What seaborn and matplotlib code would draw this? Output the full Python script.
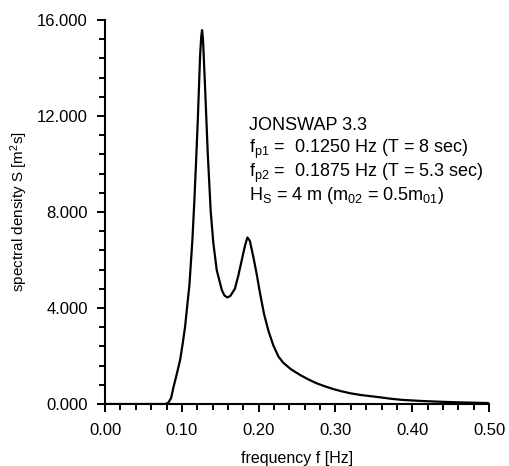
import numpy as np
import pandas as pd
import matplotlib
matplotlib.use("Agg")
import matplotlib.pyplot as plt
from matplotlib.ticker import MultipleLocator, FormatStrFormatter
import seaborn as sns

# ── Data ───────────────────────────────────────────────
freq = [0.000, 0.078, 0.082, 0.086, 0.0889, 0.093, 0.0977, 0.101, 0.1042,
        0.107, 0.1098, 0.1137, 0.1163, 0.1185, 0.1207, 0.1237, 0.1252,
        0.1263, 0.1275, 0.1302, 0.1337, 0.1376, 0.141, 0.1454, 0.152,
        0.1555, 0.1593, 0.163, 0.169, 0.1735, 0.178, 0.1822, 0.1853,
        0.1885, 0.193, 0.1975, 0.2018, 0.207, 0.2127, 0.219, 0.2257,
        0.232, 0.242, 0.254, 0.265, 0.2757, 0.286, 0.297, 0.308, 0.319,
        0.332, 0.345, 0.358, 0.372, 0.388, 0.410, 0.432, 0.460, 0.500]
density = [0.0, 0.0, 0.04, 0.25, 0.68, 1.2, 1.83, 2.5, 3.22,
           4.1, 4.95, 6.83, 8.5, 10.1, 11.8, 14.5, 15.3,
           15.58, 15.2, 13.2, 10.45, 8.0, 6.7, 5.58, 4.75,
           4.52, 4.44, 4.5, 4.8, 5.35, 6.0, 6.6, 6.94,
           6.8, 6.14, 5.4, 4.61, 3.75, 3.05, 2.45, 1.98,
           1.72, 1.45, 1.21, 1.02, 0.86, 0.74, 0.625, 0.53, 0.45,
           0.38, 0.33, 0.28, 0.22, 0.17, 0.13, 0.10, 0.07, 0.04]

info_lines = [
    "JONSWAP 3.3",
    r"f$_{\mathrm{p1}}$ =  0.1250 Hz (T = 8 sec)",
    r"f$_{\mathrm{p2}}$ =  0.1875 Hz (T = 5.3 sec)",
    r"H$_{\mathrm{S}}$ = 4 m (m$_{02}$ = 0.5m$_{01}$)",
]

df = pd.DataFrame({"f": freq, "S": density})

# ── Style ──────────────────────────────────────────────
sns.set_style("ticks")
plt.rcParams["font.family"] = ["Liberation Sans", "DejaVu Sans"]
plt.rcParams["mathtext.fontset"] = "custom"
plt.rcParams["mathtext.rm"] = "Liberation Sans"
plt.rcParams["mathtext.it"] = "Liberation Sans"
plt.rcParams["text.color"] = "black"
plt.rcParams["axes.labelcolor"] = "black"
plt.rcParams["xtick.color"] = "black"
plt.rcParams["ytick.color"] = "black"
plt.rcParams["axes.edgecolor"] = "black"

fig = plt.figure(figsize=(5.10, 4.66), dpi=100)
ax = fig.add_axes([0.206, 0.133, 0.753, 0.824])

sns.lineplot(data=df, x="f", y="S", color="black", linewidth=1.6, ax=ax)

ax.set_xlim(0, 0.5)
ax.set_ylim(0, 16)
ax.xaxis.set_major_locator(MultipleLocator(0.1))
ax.xaxis.set_minor_locator(MultipleLocator(0.02))
ax.yaxis.set_major_locator(MultipleLocator(4))
ax.yaxis.set_minor_locator(MultipleLocator(0.8))
ax.xaxis.set_major_formatter(FormatStrFormatter("%.2f"))
ax.yaxis.set_major_formatter(FormatStrFormatter("%.3f"))

ax.tick_params(which="major", length=6, width=1.4, labelsize=12)
ax.tick_params(axis="x", which="major", pad=8)
ax.tick_params(axis="y", which="major", pad=6.5)
ax.tick_params(which="minor", length=4.5, width=1.4)
for s in ["left", "bottom"]:
    ax.spines[s].set_linewidth(1.5)
sns.despine(ax=ax)

ax.set_xlabel("frequency f [Hz]", fontsize=11.5, labelpad=9)
ax.set_ylabel("spectral density S [m$^2$s]", fontsize=11, labelpad=5)

# ── Annotation block ───────────────────────────────────
for i, line in enumerate(info_lines):
    ax.text(0.1875, 11.40 - i * 0.96, line, fontsize=13, va="baseline", ha="left")

fig.savefig("out.png", dpi=100)
